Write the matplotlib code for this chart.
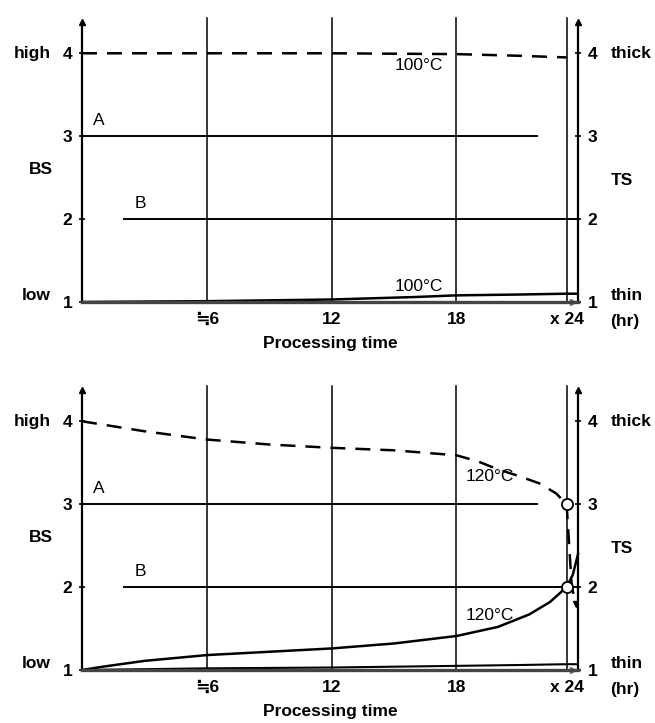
import matplotlib
matplotlib.use("Agg")
import matplotlib.pyplot as plt

plt.rcParams["font.family"] = ["Liberation Sans", "DejaVu Sans"]

# ---------------------------------------------------------------------------
# Data
# ---------------------------------------------------------------------------
GRID_X = [6, 12, 18, 23.3]
XTICK_LABELS = ["\u22526", "12", "18", "x 24"]
Y_TICKS = [1, 2, 3, 4]

LINE_A = ([0, 21.9], [3, 3])
LINE_B = ([2.0, 23.85], [2, 2])

# top panel: 100 C
TOP_DASH_T = [0, 6, 12, 18, 21, 23.3]
TOP_DASH_V = [4.0, 4.0, 4.0, 3.99, 3.97, 3.95]
TOP_SOLID_T = [0, 6, 12, 16, 18, 21, 23.3, 23.85]
TOP_SOLID_V = [1.0, 1.01, 1.03, 1.06, 1.08, 1.09, 1.10, 1.10]

# bottom panel: 120 C
BOT_DASH_T = [0, 3, 6, 9, 12, 15, 18, 19, 20, 21, 22, 22.8, 23.3]
BOT_DASH_V = [4.0, 3.88, 3.78, 3.72, 3.68, 3.65, 3.59, 3.52, 3.42, 3.34, 3.25, 3.13, 3.0]
BOT_DROP_T = [23.3, 23.45, 23.55, 23.75]
BOT_DROP_V = [3.0, 2.4, 2.0, 1.8]
BOT_SOLID_T = [0, 1, 3, 6, 9, 12, 15, 18, 20, 21.5, 22.5, 23.3, 23.6, 23.85]
BOT_SOLID_V = [1.0, 1.04, 1.11, 1.18, 1.22, 1.26, 1.32, 1.41, 1.52, 1.67, 1.82, 2.0, 2.15, 2.4]
BOT_BASE_T = [0, 6, 12, 18, 21, 23.3, 23.85]
BOT_BASE_V = [1.0, 1.02, 1.03, 1.05, 1.06, 1.07, 1.07]
CROSS_T = [23.3, 23.3]
CROSS_V = [3.0, 2.0]

FS = 12.5


def panel(ax):
    ax.set_xlim(0, 23.85)
    ax.set_ylim(1, 4.45)
    for gx in GRID_X:
        ax.plot([gx, gx], [1, 4.43], color="black", lw=1.1, clip_on=False)
    ax.plot(*LINE_A, color="black", lw=1.4)
    ax.plot(*LINE_B, color="black", lw=1.4)
    ax.text(0.8, 3.1, "A", fontsize=FS, va="bottom", ha="center")
    ax.text(2.8, 2.1, "B", fontsize=FS, va="bottom", ha="center")

    ax.spines["top"].set_visible(False)
    ax.spines["left"].set_bounds(1, 4.36)
    ax.spines["right"].set_bounds(1, 4.36)
    ax.spines["left"].set_linewidth(1.6)
    ax.spines["right"].set_linewidth(1.6)
    ax.spines["bottom"].set_linewidth(2.4)
    ax.spines["bottom"].set_color("#444444")
    ax.plot([0], [4.38], marker="^", color="black", ms=5, clip_on=False)
    ax.plot([23.85], [4.38], marker="^", color="black", ms=5, clip_on=False)
    ax.plot([23.6], [1.0], marker=">", color="#666666", ms=5, clip_on=False)

    ax.set_yticks(Y_TICKS)
    ax.set_yticklabels([str(v) for v in Y_TICKS], fontsize=FS, fontweight="bold")
    ax.tick_params(axis="y", left=True, right=True, labelright=True,
                   direction="inout", length=4, width=1.2, pad=5)
    ax.set_xticks(GRID_X)
    ax.set_xticklabels(XTICK_LABELS, fontsize=FS, fontweight="bold")
    ax.tick_params(axis="x", length=0, pad=7)
    ax.set_xlabel("Processing time", fontsize=FS, fontweight="bold", labelpad=7)

    ax.text(-1.5, 4.0, "high", fontsize=FS, fontweight="bold", ha="right", va="center")
    ax.text(-1.5, 1.08, "low", fontsize=FS, fontweight="bold", ha="right", va="center")
    ax.text(-2.0, 2.6, "BS", fontsize=FS, fontweight="bold", ha="center", va="center")
    ax.text(25.4, 4.0, "thick", fontsize=FS, fontweight="bold", ha="left", va="center")
    ax.text(25.4, 2.47, "TS", fontsize=FS, fontweight="bold", ha="left", va="center")
    ax.text(25.4, 1.08, "thin", fontsize=FS, fontweight="bold", ha="left", va="center")
    ax.text(25.4, 0.76, "(hr)", fontsize=FS, fontweight="bold", ha="left", va="center")


fig = plt.figure(figsize=(6.55, 7.23), dpi=100)
ax_top = fig.add_axes([0.1252, 0.5823, 0.7573, 0.3956])
ax_bot = fig.add_axes([0.1252, 0.0733, 0.7573, 0.3956])

panel(ax_top)
ax_top.plot(TOP_DASH_T, TOP_DASH_V, color="black", lw=1.8, ls=(0, (6, 4)))
ax_top.plot(TOP_SOLID_T, TOP_SOLID_V, color="black", lw=1.8)
ax_top.text(16.2, 3.85, "100\u00b0C", fontsize=FS, ha="center", va="center")
ax_top.text(16.2, 1.19, "100\u00b0C", fontsize=FS, ha="center", va="center")

panel(ax_bot)
ax_bot.plot(BOT_DASH_T, BOT_DASH_V, color="black", lw=1.8, ls=(0, (6, 4)))
ax_bot.plot(BOT_DROP_T, BOT_DROP_V, color="black", lw=1.8, ls=(0, (6, 4)))
ax_bot.plot([BOT_DROP_T[-1]], [BOT_DROP_V[-1]], marker="v", color="black", ms=4)
ax_bot.plot(BOT_BASE_T, BOT_BASE_V, color="black", lw=1.5)
ax_bot.plot(BOT_SOLID_T, BOT_SOLID_V, color="black", lw=1.8, clip_on=False)
ax_bot.plot(CROSS_T, CROSS_V, ls="none", marker="o", ms=8, mfc="white",
            mec="black", mew=1.3, zorder=5)
ax_bot.text(19.6, 3.33, "120\u00b0C", fontsize=FS, ha="center", va="center")
ax_bot.text(19.6, 1.66, "120\u00b0C", fontsize=FS, ha="center", va="center")

fig.savefig("out.png", dpi=100)
